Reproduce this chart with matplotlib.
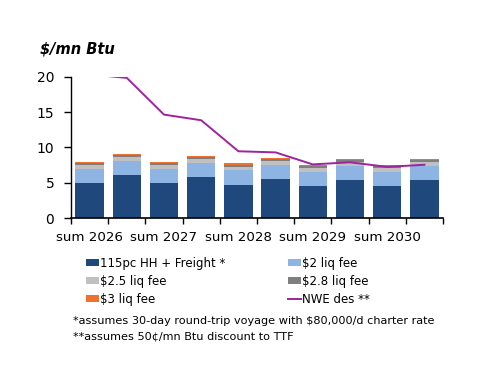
import numpy as np
import matplotlib
matplotlib.use('Agg')
import matplotlib.pyplot as plt

# 数据
periods = ['sum 2026', 'win 2026', 'sum 2027', 'win 2027', 'sum 2028',
           'win 2028', 'sum 2029', 'win 2029', 'sum 2030', 'win 2030']
hh_freight = [5.0, 6.1, 5.0, 5.8, 4.75, 5.55, 4.57, 5.37, 4.57, 5.37]
fee_2 = [2.0] * 10
fee_25 = [0.5] * 10
fee_28 = [0.3] * 10
fee_3 = [0.2] * 10
nwe_des = [20.35, 19.85, 14.65, 13.85, 9.46, 9.3, 7.6, 7.9, 7.25, 7.55]

plt.rcParams['font.family'] = ['DejaVu Sans']
fig = plt.figure(figsize=(5, 3.86), dpi=100)
ax = fig.add_axes([0.142, 0.435, 0.744, 0.366])

x = np.arange(len(periods))
w = 0.76
layers = [
    (hh_freight, '#1f497d', '115pc HH + Freight *'),
    (fee_2, '#8db4e2', '$2 liq fee'),
    (fee_25, '#c0c0c0', '$2.5 liq fee'),
    (fee_28, '#7f7f7f', '$2.8 liq fee'),
    (fee_3, '#f07030', '$3 liq fee'),
]
bottom = np.zeros(len(periods))
bars = {}
for vals, col, lab in layers:
    bars[lab] = ax.bar(x, vals, w, bottom=bottom, color=col, label=lab)
    bottom += np.array(vals)

line, = ax.plot(x, nwe_des, color='#a0229f', lw=1.4, label='NWE des **')

ax.set_xlim(-0.5, len(periods) - 0.5)
ax.set_ylim(0, 20)
ax.set_yticks([0, 5, 10, 15, 20])
ax.set_xticks(x[::2])
ax.set_xticklabels(periods[::2])
ax.set_xticks(np.arange(-0.5, len(periods), 1), minor=True)
ax.tick_params(axis='x', which='major', length=0, labelsize=9.6, pad=9)
ax.tick_params(axis='x', which='minor', length=4, width=1, direction='out')
ax.tick_params(axis='y', length=5, width=1, labelsize=10, pad=7)
for s in ['top', 'right']:
    ax.spines[s].set_visible(False)
ax.spines['left'].set_linewidth(1)
ax.spines['bottom'].set_linewidth(1.2)

fig.text(0.08, 0.862, '$/mn Btu', fontsize=10.5, fontweight='bold', style='italic')

handles = [bars['115pc HH + Freight *'], bars['$2.5 liq fee'], bars['$3 liq fee'],
           bars['$2 liq fee'], bars['$2.8 liq fee'], line]
labels = ['115pc HH + Freight *', '$2.5 liq fee', '$3 liq fee',
          '$2 liq fee', '$2.8 liq fee', 'NWE des **']
fig.legend(handles, labels, ncol=2, loc='upper left', bbox_to_anchor=(0.172, 0.335),
           frameon=False, fontsize=8.5, handlelength=1.1, handleheight=0.6,
           handletextpad=0.1, columnspacing=5.3, labelspacing=0.42,
           borderpad=0, borderaxespad=0)

fig.text(0.146, 0.169, '*assumes 30-day round-trip voyage with $80,000/d charter rate',
         fontsize=8.1, va='center')
fig.text(0.146, 0.129, '**assumes 50\u00a2/mn Btu discount to TTF', fontsize=8.1, va='center')

fig.savefig('out.png', dpi=100)
